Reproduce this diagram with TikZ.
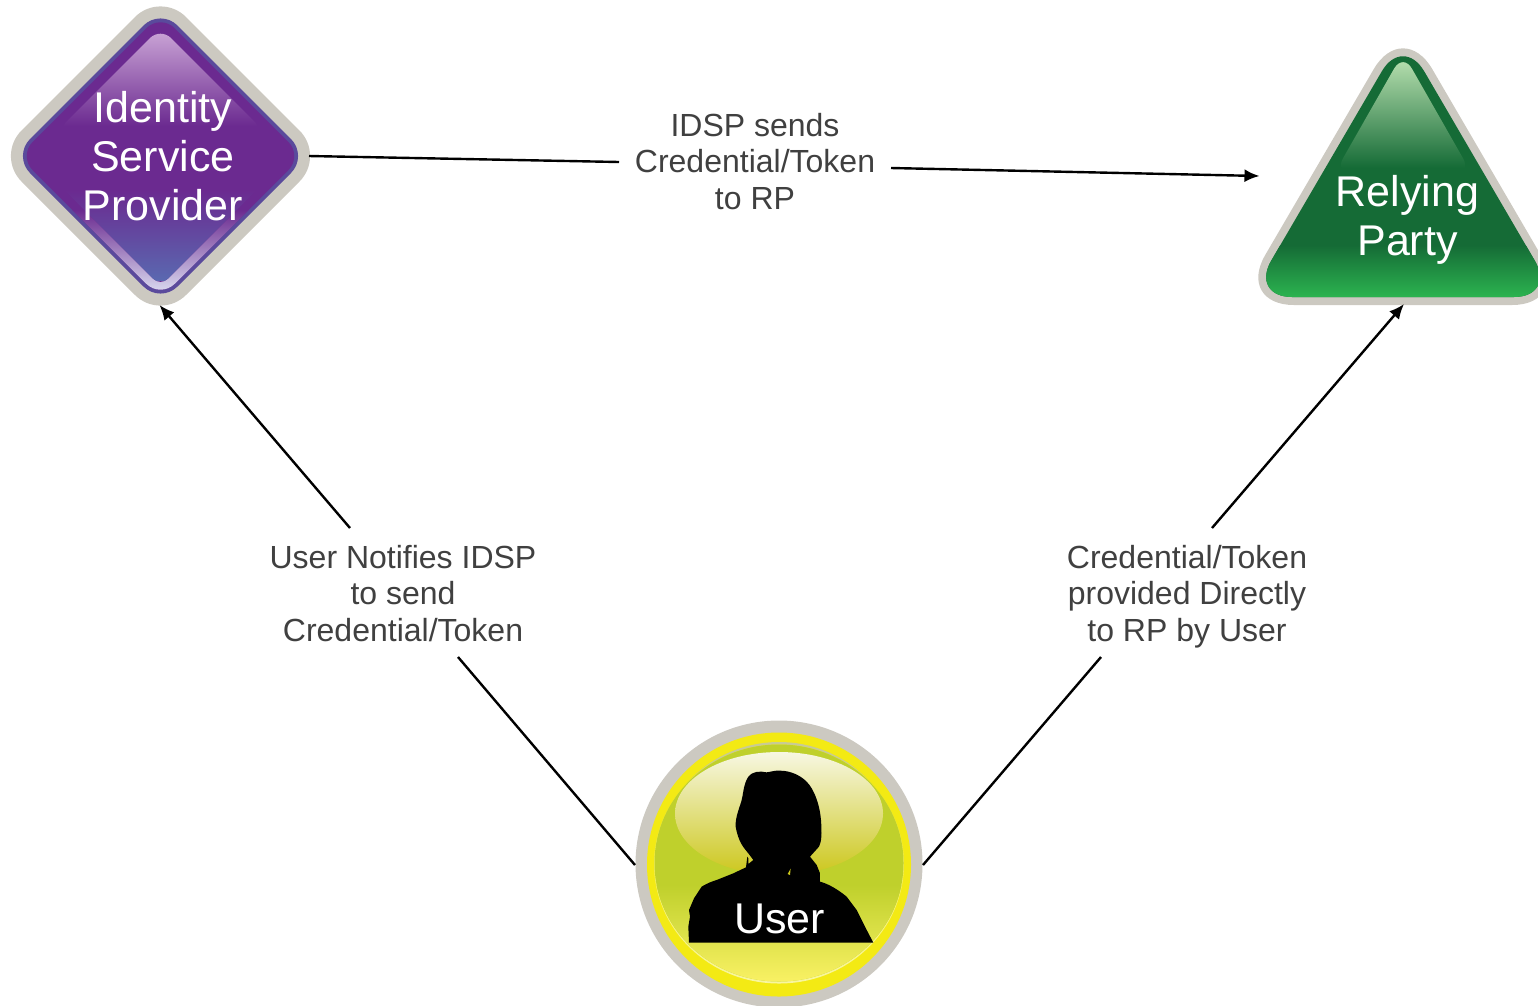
\documentclass[tikz,border=0pt]{standalone}
\usepackage{fontspec}
\setmainfont{Liberation Sans}
\usetikzlibrary{arrows.meta}
\definecolor{ringgray}{HTML}{CCC9C1}
\definecolor{idspring}{HTML}{5A4A9C}
\definecolor{idsppurple}{HTML}{6B2A90}
\definecolor{idspblue}{HTML}{5A68B0}
\definecolor{idsplight}{HTML}{DADAF0}
\definecolor{idspgloss}{HTML}{CDA8D8}
\definecolor{rpdark}{HTML}{156B36}
\definecolor{rpbright}{HTML}{2CB550}
\definecolor{rpgloss}{HTML}{B8E0B0}
\definecolor{userring}{HTML}{F3EA14}
\definecolor{userolive}{HTML}{BFD02C}
\definecolor{userlight}{HTML}{F9F164}
\definecolor{userrim}{HTML}{F8F6A0}
\definecolor{usergloss}{HTML}{F7F7E2}
\definecolor{usergold}{HTML}{CCC71C}
\definecolor{labeltext}{HTML}{404040}
\tikzset{
  shapetext/.style={text=white,align=center,font=\fontsize{43}{49}\selectfont,inner sep=0pt},
  linklabel/.style={text=labeltext,align=center,font=\fontsize{32}{36.6}\selectfont,inner sep=0pt},
  link/.style={black,line width=2.4pt},
  arrowlink/.style={link,-{Latex[length=15pt,width=13pt]}},
}
\def\diampath#1#2{(160.5,156-#1) [rounded corners=#2pt] -- (160.5+#1,156) -- (160.5,156+#1) -- (160.5-#1,156) -- cycle}
\begin{document}
\begin{tikzpicture}[x=1pt,y=-1pt]
\useasboundingbox (0,0) rectangle (1538,1005);
\clip (0,0) rectangle (1538,1005);

% Identity Service Provider
\fill[ringgray] \diampath{164.5}{36};
\fill[idspring] \diampath{147.5}{24};
\begin{scope}
  \clip \diampath{142}{20};
  \fill[idsppurple] (0,0) rectangle (320,320);
  \shade[top color=idsppurple,bottom color=idsplight] (0,210) rectangle (320,292);
\end{scope}
\begin{scope}
  \clip \diampath{130}{10};
  \fill[idsppurple] (0,0) rectangle (320,320);
  \shade[top color=idsppurple,bottom color=idspblue] (0,190) rectangle (320,280);
\end{scope}
\begin{scope}
  \clip[rounded corners=15pt] (160.5,27.5) -- (265,132) -- (56,132) -- cycle;
  \shade[top color=idspgloss,bottom color=idsppurple] (40,28) rectangle (280,126);
\end{scope}

% Relying Party
\fill[ringgray,rounded corners=58pt] (1403,19) -- (1570,305) -- (1236,305) -- cycle;
\begin{scope}
  \clip[rounded corners=42pt] (1403,35) -- (1556,297) -- (1250,297) -- cycle;
  \fill[rpdark] (1240,0) rectangle (1538,320);
  \shade[top color=rpdark,bottom color=rpbright] (1240,245) rectangle (1538,298);
\end{scope}
\begin{scope}
  \clip[rounded corners=18pt] (1403,53) -- (1472,174) -- (1334,174) -- cycle;
  \shade[top color=rpgloss,bottom color=rpdark] (1320,58) rectangle (1485,168);
\end{scope}

% User
\fill[ringgray] (779,864) circle[radius=143.5pt];
\fill[userring] (779,864.5) circle[radius=132pt];
\fill[ringgray!70!userolive] (779,862) ellipse[x radius=122pt,y radius=120pt];
\shade[top color=userring,bottom color=userrim] (779,864) ellipse[x radius=125pt,y radius=119.5pt];
\begin{scope}
  \clip (779,863) ellipse[x radius=124.5pt,y radius=118.5pt];
  \fill[userolive] (640,720) rectangle (920,1005);
  \shade[top color=userolive,bottom color=userlight] (640,885) rectangle (920,982);
\end{scope}
\shade[top color=usergloss,bottom color=usergold] (779,813.5) ellipse[x radius=104pt,y radius=61.5pt];
\begin{scope}[shift={(620,710)},x=0.3333pt,y=-0.3333pt]
  \fill[black] (207,698) -- (205,650) -- (210,620) -- (207,600) -- (222,565) -- (245,530)
    .. controls (265,518) and (275,515) .. (290,510) -- (340,490) -- (378,472) -- (382,440)
    -- (385,445) -- (385,462) -- (400,450)
    -- (385,430) .. controls (370,412) and (355,395) .. (347,350)
    .. controls (345,320) and (362,285) .. (365,270) .. controls (372,240) and (370,225) .. (385,200)
    .. controls (395,185) and (420,182) .. (440,187) .. controls (455,185) and (470,180) .. (480,182)
    .. controls (510,182) and (540,195) .. (560,215) .. controls (585,240) and (600,290) .. (603,330)
    .. controls (606,370) and (605,395) .. (597,410) -- (570,440) -- (590,465) -- (600,490) -- (600,515)
    .. controls (620,520) and (650,535) .. (680,560) -- (710,600) -- (735,650) -- (760,698) -- cycle;
  \fill[usergold] (503,492) -- (512,476) -- (510,495) -- cycle;
\end{scope}

% Shape labels
\node[shapetext] (idsp) at (163,156) {Identity\\Service\\Provider};
\node[shapetext] (rp) at (1407.5,219.5) {Relying\\Party};
\node[shapetext] (user) at (779.5,918.5) {User};

% Link labels
\node[linklabel] (idsptorp) at (755,161.3) {IDSP sends\\Credential/Token\\to RP};
\node[linklabel] (usertoidsp) at (403,593.5) {User Notifies IDSP\\to send\\Credential/Token};
\node[linklabel] (usertorp) at (1187,596.7) {Credential/Token\\provided Directly\\to RP by User};

% Connector end points
\coordinate (idsp-e) at (309,156);
\coordinate (idsp-s) at (159.5,305);
\coordinate (rp-w) at (1259.5,176);
\coordinate (rp-s) at (1404,304);
\coordinate (user-w) at (635,865);
\coordinate (user-e) at (923,865);
\coordinate (a-in) at (619,162);
\coordinate (a-out) at (891,168);
\coordinate (b-in) at (458,657);
\coordinate (b-out) at (350,528);
\coordinate (c-in) at (1101,657);
\coordinate (c-out) at (1212,528);

\draw[link] (idsp-e) -- (a-in);
\draw[arrowlink] (a-out) -- (rp-w);
\draw[link] (user-w) -- (b-in);
\draw[arrowlink] (b-out) -- (idsp-s);
\draw[link] (user-e) -- (c-in);
\draw[arrowlink] (c-out) -- (rp-s);
\end{tikzpicture}
\end{document}
